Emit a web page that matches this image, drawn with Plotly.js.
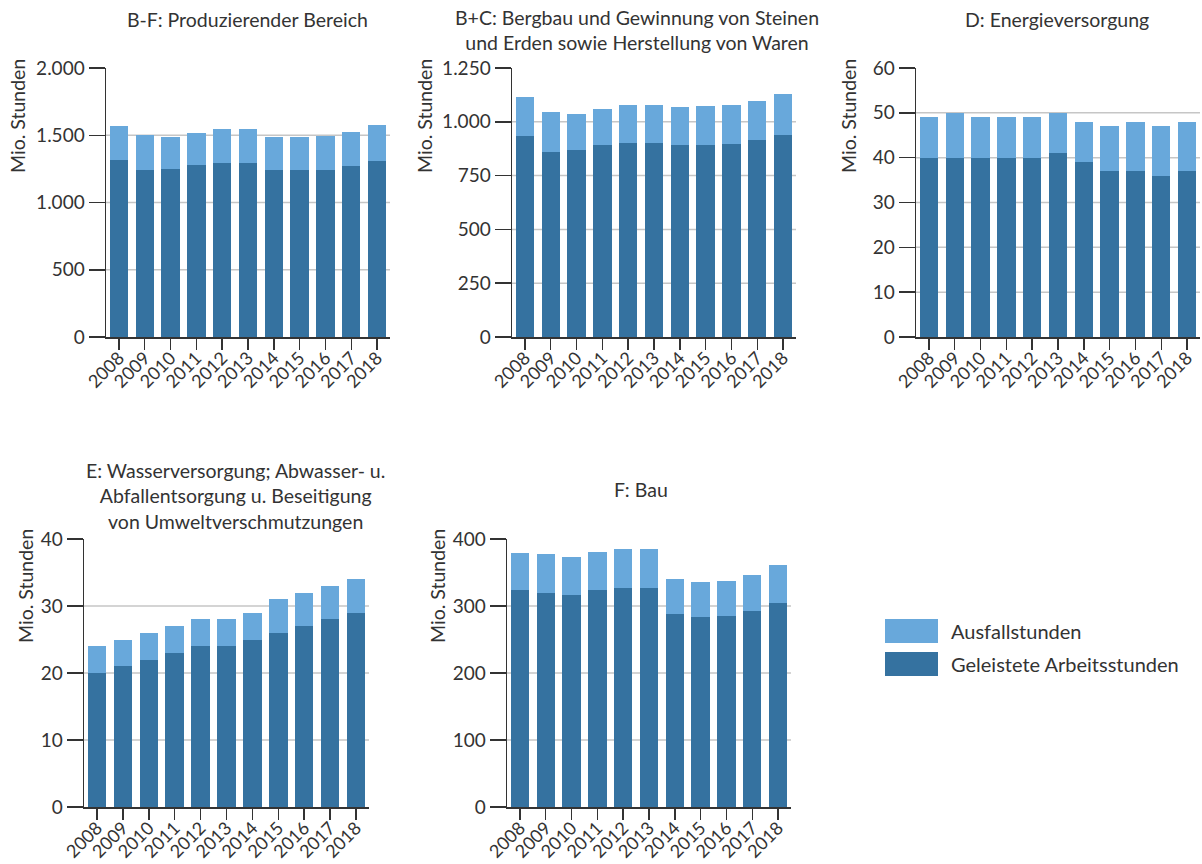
<!DOCTYPE html>
<html>
<head>
<meta charset="utf-8">
<script src="https://cdn.plot.ly/plotly-3.0.1.min.js"></script>
<style>html,body{margin:0;padding:0;background:#fff;}</style>
</head>
<body>
<div id="chart" style="width:1202px;height:864px;"></div>
<script>
const years = ['2008','2009','2010','2011','2012','2013','2014','2015','2016','2017','2018'];
const seriesNames = ['Ausfallstunden', 'Geleistete Arbeitsstunden'];

const bfGeleistet = [1313,1239,1246,1276,1291,1291,1239,1239,1239,1269,1306];
const bfAusfall   = [253,260,238,238,253,253,245,245,253,252,268];

const bcGeleistet = [932,858,867,891,900,900,891,891,895,914,937];
const bcAusfall   = [182,186,168,167,177,177,176,181,182,181,191];

const dGeleistet = [40,40,40,40,40,41,39,37,37,36,37];
const dAusfall   = [9,10,9,9,9,9,9,10,11,11,11];

const eGeleistet = [20,21,22,23,24,24,25,26,27,28,29];
const eAusfall   = [4,4,4,4,4,4,4,5,5,5,5];

const fGeleistet = [324,319,317,324,327,327,288,284,285,293,305];
const fAusfall   = [55,59,56,57,58,58,52,52,52,53,56];

const panelTitles = [
  'B-F: Produzierender Bereich',
  'B+C: Bergbau und Gewinnung von Steinen<br>und Erden sowie Herstellung von Waren',
  'D: Energieversorgung',
  'E: Wasserversorgung; Abwasser- u.<br>Abfallentsorgung u. Beseitigung<br>von Umweltverschmutzungen',
  'F: Bau'
];
const yTitle = 'Mio. Stunden';
const bfTicks = [0,500,1000,1500,2000];
const bcTicks = [0,250,500,750,1000,1250];
const dTicks  = [0,10,20,30,40,50,60];
const eTicks  = [0,10,20,30,40];
const fTicks  = [0,100,200,300,400];

const DARK = '#3572a0';
const LIGHT = '#68a8db';
const TXT = '#333333';
const W = 1202, H = 864;
const FONT = 'Lato, "Open Sans", sans-serif';
const TITLE_SIZE = 19.5;
const YTICK_SIZE = 19;
const XTICK_SIZE = 18;

const panels = [
  {g: bfGeleistet, a: bfAusfall, ticks: bfTicks, px: [106, 390], py: [68, 337], title: panelTitles[0], tx: 247, ty: 6, ytx: 18, yty: 57},
  {g: bcGeleistet, a: bcAusfall, ticks: bcTicks, px: [512, 796], py: [68, 337], title: panelTitles[1], tx: 637, ty: 4, ytx: 425, yty: 57},
  {g: dGeleistet,  a: dAusfall,  ticks: dTicks,  px: [916, 1200], py: [68, 337], title: panelTitles[2], tx: 1057, ty: 6, ytx: 849, yty: 57},
  {g: eGeleistet,  a: eAusfall,  ticks: eTicks,  px: [84, 369],  py: [539, 807], title: panelTitles[3], tx: 235, ty: 457, ytx: 25, yty: 527},
  {g: fGeleistet,  a: fAusfall,  ticks: fTicks,  px: [507, 791], py: [539, 807], title: panelTitles[4], tx: 641, ty: 476, ytx: 437, yty: 527}
];

const data = [];
const layout = {
  width: W, height: H,
  margin: {l: 0, r: 0, t: 0, b: 0},
  paper_bgcolor: '#ffffff',
  plot_bgcolor: 'rgba(0,0,0,0)',
  barmode: 'stack',
  bargap: 0.29,
  showlegend: false,
  separators: ',.',
  font: {family: FONT, color: TXT, size: 16},
  annotations: [],
  shapes: []
};

panels.forEach((p, i) => {
  const n = i + 1;
  const xa = 'x' + (n === 1 ? '' : n);
  const ya = 'y' + (n === 1 ? '' : n);
  data.push({
    type: 'bar', x: years, y: p.g, name: seriesNames[1],
    marker: {color: DARK, line: {width: 0}}, xaxis: xa, yaxis: ya,
    hoverinfo: 'x+y+name'
  });
  data.push({
    type: 'bar', x: years, y: p.a, name: seriesNames[0],
    marker: {color: LIGHT, line: {width: 0}}, xaxis: xa, yaxis: ya,
    hoverinfo: 'x+y+name'
  });
  const ymax = p.ticks[p.ticks.length - 1];
  layout['xaxis' + (n === 1 ? '' : n)] = {
    domain: [p.px[0] / W, p.px[1] / W],
    anchor: ya,
    type: 'category',
    range: [-0.5, 10.5],
    showline: true, linecolor: TXT, linewidth: 1.5,
    ticks: 'outside', ticklen: 11, tickwidth: 1.5, tickcolor: TXT,
    tickangle: -45,
    ticklabelstandoff: -9,
    tickfont: {family: FONT, size: XTICK_SIZE, color: TXT},
    showgrid: false, zeroline: false, fixedrange: true
  };
  layout['yaxis' + (n === 1 ? '' : n)] = {
    domain: [1 - p.py[1] / H, 1 - p.py[0] / H],
    anchor: xa,
    range: [0, ymax],
    tickmode: 'array', tickvals: p.ticks,
    tickformat: ',d',
    showline: true, linecolor: TXT, linewidth: 1.5,
    ticks: 'outside', ticklen: 16, tickwidth: 1.5, tickcolor: TXT,
    tickfont: {family: FONT, size: YTICK_SIZE, color: TXT},
    showgrid: false, zeroline: false, fixedrange: true
  };
  // gridlines (all ticks except bottom and top)
  p.ticks.slice(1, -1).forEach(v => {
    layout.shapes.push({
      type: 'line', layer: 'below',
      xref: xa + ' domain', yref: ya,
      x0: 0, x1: 1, y0: v, y1: v,
      line: {color: '#c6c6c6', width: 1.5}
    });
  });
  // panel title
  layout.annotations.push({
    xref: 'paper', yref: 'paper',
    x: p.tx / W, y: 1 - p.ty / H,
    xanchor: 'center', yanchor: 'top',
    text: p.title, showarrow: false, align: 'center',
    font: {family: FONT, size: TITLE_SIZE, color: TXT}
  });
  // y-axis title
  layout.annotations.push({
    xref: 'paper', yref: 'paper',
    x: p.ytx / W, y: 1 - p.yty / H,
    xanchor: 'center', yanchor: 'top',
    text: yTitle, textangle: -90, showarrow: false,
    font: {family: FONT, size: TITLE_SIZE, color: TXT}
  });
});

// legend (drawn as swatches + labels)
const legendItems = [
  {label: seriesNames[0], color: LIGHT, y0: 619, y1: 643},
  {label: seriesNames[1], color: DARK, y0: 652, y1: 676}
];
legendItems.forEach(it => {
  layout.shapes.push({
    type: 'rect', xref: 'paper', yref: 'paper',
    x0: 885 / W, x1: 938 / W, y0: 1 - it.y1 / H, y1: 1 - it.y0 / H,
    fillcolor: it.color, line: {width: 0}
  });
  layout.annotations.push({
    xref: 'paper', yref: 'paper',
    x: 949 / W, y: 1 - ((it.y0 + it.y1) / 2) / H,
    xanchor: 'left', yanchor: 'middle',
    text: it.label, showarrow: false,
    font: {family: FONT, size: 20, color: TXT}
  });
});

Plotly.newPlot('chart', data, layout, {displayModeBar: false, staticPlot: true});
</script>
</body>
</html>
